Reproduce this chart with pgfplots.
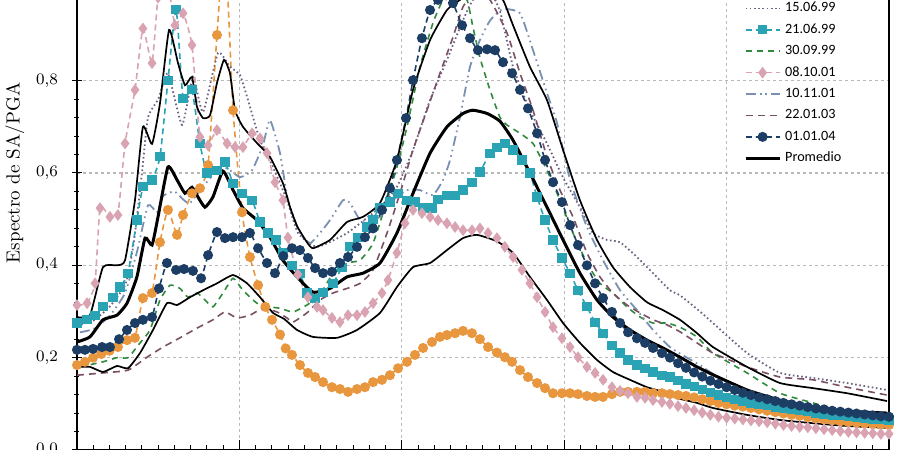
\documentclass[border=0pt]{standalone}
\usepackage{fontspec}
\usepackage{pgfplots}
\pgfplotsset{compat=1.18}
\newfontfamily\legendfont{Carlito}

\definecolor{cOrange}{HTML}{E8973F}
\definecolor{cTeal}{HTML}{2AA3B5}
\definecolor{cPink}{HTML}{D9A3B2}
\definecolor{cNavy}{HTML}{1C3D64}
\definecolor{cGreen}{HTML}{2F8A3E}
\definecolor{cMauve}{HTML}{7A5064}
\definecolor{cSlate}{HTML}{7A90B2}
\definecolor{cDot}{HTML}{6E6282}

\begin{document}
\begin{tikzpicture}
\begin{axis}[
    scale only axis,
    width=406pt, height=277pt,
    xmin=0, xmax=5, ymin=0, ymax=1.2,
    xtick={0,1,2,3,4,5}, minor x tick num=9, xticklabels={},
    ytick={0,0.2,0.4,0.6,0.8}, minor y tick num=4,
    tick pos=left,
    ytick align=center,
    major tick length=5pt, minor tick length=2.5pt,
    tick style={black, line width=0.5pt},
    axis line style={black, line width=0.9pt},
    grid=major,
    major grid style={gray!55, dash pattern=on 1.5pt off 1.5pt, line width=0.6pt},
    yticklabel style={font=\fontsize{8.5}{10}\selectfont, xshift=-3.5pt},
    /pgf/number format/.cd, fixed, fixed zerofill, precision=1, use comma, /pgfplots/.cd,
    ylabel={Espectro de SA/PGA},
    ylabel style={font=\fontsize{9.5}{11}\selectfont},
    ylabel shift=-1pt,
    legend style={draw=none, fill=none, at={(0.821,0.817)}, anchor=north west,
        inner sep=0pt, row sep=0pt,
        font=\legendfont\fontsize{7.1}{8}\selectfont,
        nodes={inner xsep=2pt, inner ysep=2.1pt, text height=5pt, text depth=1.5pt}},
    legend cell align=left,
]
% orange series (its legend entry lies above the visible part)
\addplot[cOrange, line width=0.8pt, dash pattern=on 3pt off 2pt, smooth, tension=0.3,
    mark=*, mark size=2.1pt, mark options={solid, fill=cOrange}, forget plot] coordinates {
(0,0.184) (0.049,0.191) (0.099,0.2) (0.15,0.208) (0.2,0.215) (0.252,0.223) (0.308,0.238)
(0.357,0.243) (0.406,0.329) (0.462,0.34) (0.511,0.45) (0.560,0.52) (0.616,0.466) (0.653,0.509)
(0.708,0.556) (0.757,0.567) (0.807,0.617) (0.862,0.899) (0.91,1.1) (0.961,0.736) (1.016,0.515)
(1.065,0.418) (1.115,0.357) (1.16,0.31) (1.201,0.282) (1.25,0.25) (1.285,0.22) (1.324,0.206)
(1.373,0.184) (1.422,0.167) (1.466,0.158) (1.515,0.147) (1.570,0.136) (1.619,0.132) (1.669,0.126)
(1.724,0.132) (1.773,0.136) (1.823,0.147) (1.878,0.152) (1.927,0.162) (1.977,0.177) (2.032,0.191)
(2.081,0.206) (2.131,0.221) (2.186,0.234) (2.235,0.245) (2.278,0.249) (2.328,0.253) (2.377,0.258)
(2.432,0.253) (2.481,0.24) (2.531,0.223) (2.586,0.211) (2.635,0.201) (2.679,0.191) (2.728,0.173)
(2.777,0.158) (2.833,0.145) (2.882,0.134) (2.931,0.123) (2.986,0.123) (3.036,0.123) (3.085,0.121)
(3.140,0.117) (3.190,0.115) (3.239,0.115) (3.294,0.121) (3.344,0.126) (3.393,0.126) (3.448,0.126)
(3.498,0.126) (3.547,0.123) (3.602,0.123) (3.651,0.121) (3.701,0.119) (3.75,0.117) (3.8,0.114)
(3.85,0.110) (3.9,0.106) (3.95,0.102) (4.0,0.099) (4.05,0.096) (4.1,0.094) (4.15,0.091) (4.2,0.088)
(4.25,0.085) (4.3,0.082) (4.35,0.079) (4.4,0.076) (4.45,0.074) (4.5,0.071) (4.55,0.068) (4.6,0.066)
(4.65,0.064) (4.7,0.062) (4.75,0.060) (4.8,0.059) (4.85,0.057) (4.9,0.056) (4.95,0.055) (5.0,0.054)
};
% 15.06.99
\addplot[cDot, line width=0.9pt, dash pattern=on 0.8pt off 1.3pt, smooth, tension=0.3] coordinates {
(0,0.27) (0.1,0.28) (0.2,0.31) (0.3,0.36) (0.35,0.45) (0.4,0.6) (0.437,0.72) (0.5,0.76) (0.56,0.816)
(0.647,0.704) (0.714,0.808) (0.776,0.732) (0.868,0.86) (0.942,0.83) (1.004,0.812) (1.053,0.758)
(1.127,0.671) (1.207,0.613) (1.293,0.541) (1.361,0.47) (1.478,0.44) (1.663,0.47) (1.866,0.526)
(1.970,0.57) (2.069,0.65) (2.174,0.758) (2.278,0.845) (2.377,0.931) (2.438,0.975) (2.53,1.0)
(2.605,0.95) (2.685,0.83) (2.789,0.736) (2.894,0.664) (2.993,0.59) (3.097,0.526) (3.177,0.47)
(3.264,0.455) (3.344,0.45) (3.448,0.418) (3.547,0.383) (3.651,0.346) (3.713,0.335) (3.836,0.30)
(3.916,0.275) (4.126,0.21) (4.329,0.167) (4.532,0.156) (4.741,0.145) (4.988,0.13)
};
\addlegendentry{15.06.99}
% 21.06.99
\addplot[cTeal, line width=0.8pt, dash pattern=on 3pt off 2pt, smooth, tension=0.3,
    mark=square*, mark size=1.9pt, mark options={solid, fill=cTeal}] coordinates {
(0,0.275) (0.062,0.282) (0.111,0.292) (0.160,0.31) (0.222,0.331) (0.265,0.353) (0.314,0.383)
(0.369,0.498) (0.406,0.57) (0.462,0.585) (0.511,0.635) (0.560,0.80) (0.610,0.955) (0.653,0.762)
(0.708,0.78) (0.757,0.664) (0.800,0.60) (0.862,0.606) (0.911,0.624) (0.961,0.578) (1.016,0.556)
(1.078,0.541) (1.127,0.494) (1.176,0.47) (1.225,0.455) (1.268,0.427) (1.324,0.40) (1.373,0.383)
(1.416,0.34) (1.466,0.329) (1.515,0.342) (1.576,0.361) (1.632,0.396) (1.681,0.44) (1.730,0.461)
(1.786,0.483) (1.823,0.50) (1.866,0.526) (1.927,0.537) (1.977,0.556) (2.032,0.541) (2.081,0.537)
(2.131,0.524) (2.186,0.524) (2.223,0.543) (2.278,0.552) (2.328,0.552) (2.377,0.563) (2.432,0.58)
(2.481,0.602) (2.543,0.643) (2.586,0.656) (2.635,0.664) (2.685,0.65) (2.740,0.628) (2.789,0.60)
(2.833,0.548) (2.882,0.498) (2.931,0.455) (2.986,0.416) (3.036,0.383) (3.085,0.346) (3.140,0.31)
(3.190,0.277) (3.239,0.253) (3.294,0.227) (3.344,0.21) (3.393,0.195) (3.448,0.184) (3.498,0.177)
(3.547,0.169) (3.602,0.162) (3.651,0.158) (3.701,0.15) (3.75,0.143) (3.8,0.137) (3.85,0.131)
(3.9,0.125) (3.95,0.119) (4.0,0.114) (4.05,0.110) (4.1,0.106) (4.15,0.102) (4.2,0.099) (4.25,0.096)
(4.3,0.093) (4.35,0.090) (4.4,0.088) (4.45,0.085) (4.5,0.083) (4.55,0.080) (4.6,0.078) (4.65,0.076)
(4.7,0.074) (4.75,0.072) (4.8,0.070) (4.85,0.069) (4.9,0.067) (4.95,0.066) (5.0,0.065)
};
\addlegendentry{21.06.99}
% 30.09.99
\addplot[cGreen, line width=0.8pt, dash pattern=on 3pt off 2.5pt, smooth, tension=0.3] coordinates {
(0.018,0.18) (0.160,0.191) (0.246,0.2) (0.314,0.2) (0.388,0.232) (0.450,0.26) (0.511,0.325)
(0.573,0.357) (0.634,0.35) (0.683,0.331) (0.739,0.34) (0.788,0.325) (0.837,0.31) (0.899,0.34)
(0.961,0.372) (1.022,0.346) (1.108,0.318) (1.188,0.31) (1.250,0.307) (1.330,0.299) (1.416,0.314)
(1.496,0.336) (1.576,0.383) (1.663,0.405) (1.743,0.411) (1.823,0.448) (1.909,0.541) (1.970,0.613)
(2.032,0.70) (2.112,0.83) (2.192,0.925) (2.254,0.975) (2.32,0.985) (2.401,0.975) (2.438,0.916)
(2.481,0.85) (2.543,0.78) (2.605,0.72) (2.648,0.704) (2.728,0.686) (2.808,0.664) (2.894,0.606)
(2.974,0.541) (3.054,0.47) (3.140,0.405) (3.220,0.361) (3.300,0.34) (3.387,0.31) (3.467,0.288)
(3.547,0.275) (3.633,0.275) (3.713,0.266) (3.818,0.245) (3.916,0.21) (4.126,0.167) (4.329,0.123)
(4.532,0.102) (4.741,0.08) (4.988,0.065)
};
\addlegendentry{30.09.99}
% 08.10.01
\addplot[cPink, line width=0.8pt, dash pattern=on 3pt off 2pt, smooth, tension=0.3,
    mark=diamond*, mark size=2.3pt, mark options={solid, fill=cPink}] coordinates {
(0,0.314) (0.062,0.318) (0.111,0.361) (0.142,0.524) (0.203,0.505) (0.252,0.509) (0.296,0.664)
(0.357,0.78) (0.406,0.913) (0.462,0.838) (0.499,0.98) (0.55,1.03) (0.603,0.92) (0.653,0.946)
(0.708,0.877) (0.757,0.678) (0.807,0.66) (0.862,0.693) (0.924,0.664) (0.973,0.656) (1.022,0.656)
(1.078,0.686) (1.127,0.675) (1.170,0.643) (1.219,0.58) (1.268,0.541) (1.299,0.46) (1.36,0.38)
(1.422,0.331) (1.478,0.31) (1.515,0.303) (1.570,0.286) (1.619,0.277) (1.669,0.292) (1.724,0.292)
(1.773,0.299) (1.823,0.318) (1.878,0.34) (1.915,0.368) (1.970,0.427) (2.020,0.491) (2.069,0.52)
(2.124,0.513) (2.174,0.505) (2.223,0.498) (2.278,0.491) (2.328,0.483) (2.377,0.476) (2.432,0.476)
(2.481,0.48) (2.531,0.47) (2.586,0.459) (2.635,0.44) (2.685,0.418) (2.740,0.39) (2.789,0.361)
(2.833,0.331) (2.882,0.299) (2.931,0.266) (2.986,0.242) (3.036,0.223) (3.085,0.201) (3.140,0.18)
(3.190,0.167) (3.239,0.152) (3.294,0.136) (3.344,0.128) (3.393,0.123) (3.448,0.115) (3.498,0.113)
(3.547,0.108) (3.602,0.104) (3.651,0.1) (3.701,0.095) (3.75,0.091) (3.8,0.086) (3.85,0.081)
(3.9,0.076) (3.95,0.072) (4.0,0.070) (4.05,0.068) (4.1,0.066) (4.15,0.064) (4.2,0.062) (4.25,0.060)
(4.3,0.057) (4.35,0.054) (4.4,0.052) (4.45,0.050) (4.5,0.049) (4.55,0.047) (4.6,0.045) (4.65,0.043)
(4.7,0.041) (4.75,0.039) (4.8,0.038) (4.85,0.037) (4.9,0.036) (4.95,0.035) (5.0,0.035)
};
\addlegendentry{08.10.01}
% 10.11.01
\addplot[cSlate, line width=0.9pt, dash pattern=on 5pt off 2pt on 0.8pt off 2pt on 0.8pt off 2pt,
    smooth, tension=0.3] coordinates {
(0.018,0.255) (0.1,0.262) (0.2,0.29) (0.296,0.34) (0.37,0.43) (0.437,0.53) (0.493,0.515) (0.53,0.55)
(0.6,0.56) (0.659,0.541) (0.696,0.535) (0.776,0.57) (0.862,0.606) (0.924,0.61) (1.004,0.591)
(1.078,0.606) (1.145,0.66) (1.188,0.715) (1.25,0.643) (1.299,0.541) (1.373,0.47) (1.435,0.448)
(1.496,0.47) (1.558,0.498) (1.638,0.541) (1.681,0.535) (1.743,0.498) (1.804,0.498) (1.866,0.505)
(1.946,0.541) (2.032,0.563) (2.112,0.563) (2.192,0.552) (2.254,0.585) (2.297,0.628) (2.358,0.721)
(2.420,0.83) (2.481,0.888) (2.543,0.93) (2.62,0.955) (2.728,0.946) (2.808,0.866) (2.894,0.773)
(2.956,0.708) (3.036,0.585) (3.140,0.483) (3.239,0.411) (3.344,0.346) (3.448,0.303) (3.547,0.26)
(3.651,0.223) (3.756,0.2) (3.836,0.184) (3.916,0.165) (4.126,0.13) (4.329,0.108) (4.532,0.095)
(4.741,0.085) (4.988,0.075)
};
\addlegendentry{10.11.01}
% 22.01.03
\addplot[cMauve, line width=0.8pt, dash pattern=on 3.5pt off 2.5pt, smooth, tension=0.3] coordinates {
(0,0.162) (0.160,0.167) (0.314,0.173) (0.431,0.201) (0.530,0.223) (0.634,0.243) (0.739,0.264)
(0.837,0.282) (0.911,0.299) (0.985,0.286) (1.065,0.292) (1.145,0.307) (1.232,0.299) (1.293,0.286)
(1.330,0.277) (1.416,0.297) (1.496,0.325) (1.576,0.34) (1.663,0.35) (1.743,0.361) (1.823,0.39)
(1.909,0.47) (1.989,0.556) (2.069,0.65) (2.155,0.736) (2.235,0.816) (2.315,0.894) (2.377,0.96)
(2.451,0.99) (2.543,0.975) (2.648,0.903) (2.728,0.816) (2.808,0.736) (2.894,0.635) (2.974,0.563)
(3.054,0.505) (3.140,0.427) (3.220,0.375) (3.300,0.34) (3.387,0.314) (3.467,0.297) (3.547,0.282)
(3.633,0.271) (3.713,0.256) (3.818,0.232) (3.916,0.21) (4.126,0.18) (4.329,0.158) (4.532,0.152)
(4.741,0.136) (4.988,0.119)
};
\addlegendentry{22.01.03}
% 01.01.04
\addplot[cNavy, line width=0.8pt, dash pattern=on 3pt off 2pt, smooth, tension=0.3,
    mark=*, mark size=2.1pt, mark options={solid, fill=cNavy}] coordinates {
(0,0.217) (0.049,0.217) (0.099,0.219) (0.154,0.223) (0.203,0.223) (0.259,0.24) (0.308,0.26)
(0.357,0.275) (0.406,0.282) (0.462,0.288) (0.505,0.35) (0.554,0.405) (0.610,0.39) (0.659,0.392)
(0.714,0.388) (0.764,0.372) (0.807,0.422) (0.862,0.472) (0.911,0.459) (0.961,0.461) (1.016,0.461)
(1.065,0.47) (1.115,0.437) (1.170,0.405) (1.219,0.383) (1.27,0.42) (1.324,0.437) (1.373,0.433)
(1.422,0.416) (1.466,0.394) (1.515,0.383) (1.570,0.386) (1.619,0.405) (1.669,0.418) (1.724,0.44)
(1.773,0.461) (1.823,0.48) (1.878,0.52) (1.927,0.567) (1.970,0.628) (2.026,0.719) (2.069,0.801)
(2.124,0.892) (2.174,0.953) (2.223,0.975) (2.272,0.985) (2.315,0.968) (2.371,0.92) (2.420,0.892)
(2.469,0.866) (2.525,0.868) (2.574,0.866) (2.623,0.84) (2.679,0.816) (2.728,0.78) (2.777,0.74)
(2.833,0.686) (2.882,0.628) (2.931,0.58) (2.986,0.537) (3.036,0.487) (3.085,0.444) (3.140,0.40)
(3.190,0.361) (3.239,0.329) (3.294,0.299) (3.344,0.275) (3.393,0.255) (3.448,0.242) (3.498,0.232)
(3.547,0.221) (3.602,0.21) (3.651,0.20) (3.701,0.188) (3.75,0.178) (3.8,0.168) (3.85,0.159)
(3.9,0.150) (3.95,0.143) (4.0,0.136) (4.05,0.130) (4.1,0.124) (4.15,0.119) (4.2,0.114) (4.25,0.110)
(4.3,0.106) (4.35,0.102) (4.4,0.099) (4.45,0.096) (4.5,0.093) (4.55,0.090) (4.6,0.088) (4.65,0.085)
(4.7,0.083) (4.75,0.081) (4.8,0.079) (4.85,0.077) (4.9,0.075) (4.95,0.073) (5.0,0.072)
};
\addlegendentry{01.01.04}
% Promedio
\addplot[black, line width=1.5pt, smooth, tension=0.3] coordinates {
(0,0.234) (0.080,0.245) (0.160,0.282) (0.246,0.292) (0.308,0.318) (0.369,0.375) (0.419,0.459)
(0.462,0.444) (0.499,0.505) (0.560,0.613) (0.616,0.585) (0.665,0.556) (0.708,0.569) (0.745,0.548)
(0.788,0.526) (0.837,0.548) (0.899,0.604) (0.961,0.563) (1.022,0.524) (1.108,0.498) (1.188,0.461)
(1.268,0.411) (1.355,0.375) (1.453,0.342) (1.558,0.350) (1.663,0.375) (1.761,0.383) (1.866,0.405)
(1.970,0.470) (2.069,0.556) (2.174,0.643) (2.278,0.700) (2.377,0.729) (2.438,0.736) (2.525,0.729)
(2.605,0.712) (2.685,0.671) (2.789,0.600) (2.894,0.526) (2.993,0.455) (3.097,0.383) (3.202,0.325)
(3.300,0.288) (3.405,0.260) (3.510,0.238) (3.608,0.221) (3.713,0.201) (3.818,0.180) (3.916,0.163)
(4.126,0.130) (4.329,0.108) (4.532,0.093) (4.741,0.084) (4.988,0.080)
};
\addlegendentry{Promedio}
% thin black: upper and lower envelopes
\addplot[black, line width=0.85pt, smooth, tension=0.3, forget plot] coordinates {
(0,0.288) (0.080,0.292) (0.160,0.396) (0.246,0.400) (0.296,0.411) (0.357,0.541) (0.406,0.700)
(0.462,0.663) (0.511,0.751) (0.567,0.910) (0.622,0.838) (0.665,0.790) (0.708,0.808) (0.739,0.743)
(0.776,0.719) (0.819,0.725) (0.862,0.795) (0.905,0.845) (0.942,0.816) (0.973,0.736) (1.022,0.700)
(1.108,0.665) (1.188,0.635) (1.268,0.578) (1.312,0.526) (1.355,0.485) (1.416,0.45) (1.453,0.437)
(1.558,0.455) (1.663,0.494) (1.761,0.505) (1.866,0.535) (1.970,0.628) (2.069,0.780) (2.174,0.888)
(2.278,0.953) (2.358,0.975) (2.45,1.0) (2.543,1.0) (2.623,0.975) (2.685,0.92) (2.789,0.830)
(2.894,0.758) (2.993,0.650) (3.097,0.541) (3.202,0.455) (3.300,0.396) (3.405,0.353) (3.510,0.320)
(3.608,0.303) (3.713,0.282) (3.818,0.253) (3.916,0.223) (4.126,0.180) (4.329,0.145) (4.532,0.134)
(4.741,0.123) (4.988,0.106)
};
\addplot[black, line width=0.85pt, smooth, tension=0.3, forget plot] coordinates {
(0,0.18) (0.080,0.18) (0.160,0.169) (0.246,0.182) (0.314,0.177) (0.388,0.21) (0.468,0.26)
(0.554,0.318) (0.616,0.314) (0.696,0.331) (0.776,0.346) (0.862,0.361) (0.961,0.379) (1.047,0.361)
(1.127,0.331) (1.207,0.297) (1.275,0.284) (1.355,0.26) (1.453,0.245) (1.601,0.243) (1.724,0.26)
(1.866,0.297) (1.970,0.353) (2.069,0.396) (2.174,0.405) (2.278,0.433) (2.377,0.459) (2.463,0.466)
(2.586,0.452) (2.685,0.427) (2.789,0.375) (2.894,0.325) (2.993,0.275) (3.097,0.232) (3.202,0.195)
(3.300,0.169) (3.405,0.152) (3.510,0.136) (3.608,0.126) (3.713,0.111) (3.818,0.102) (3.916,0.091)
(4.126,0.076) (4.329,0.065) (4.532,0.058) (4.741,0.052) (4.988,0.048)
};
\coordinate (O) at (rel axis cs:0,0);
\end{axis}
\pgfresetboundingbox
\path[use as bounding box] ([xshift=-38.5pt]O) rectangle ([xshift=411.5pt,yshift=225pt]O);
\end{tikzpicture}
\end{document}
